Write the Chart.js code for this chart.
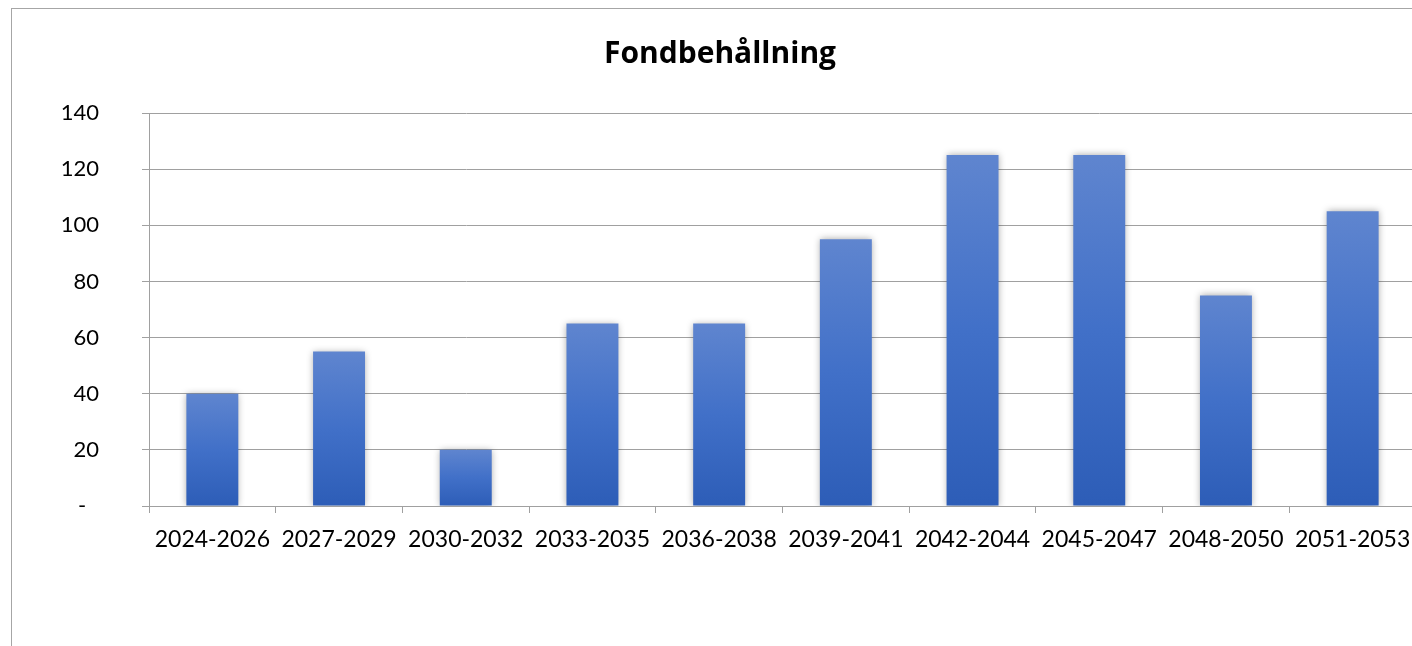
<!DOCTYPE html>
<html>
<head>
<meta charset="utf-8">
<script src="https://cdn.jsdelivr.net/npm/chart.js@4/dist/chart.umd.min.js"></script>
<style>
    html, body { margin: 0; padding: 0; background: #fff; overflow: hidden; }
    #frame {
        position: absolute; left: 11px; top: 8px;
        width: 1420px; height: 700px;
        border: 1px solid #a6a6a6;
        background: #fff;
    }
    #myChart { position: absolute; left: 0; top: 0; }
</style>
</head>
<body>
<div id="frame"><canvas id="myChart" width="1416" height="640"></canvas></div>
<script>
const periods = ['2024-2026', '2027-2029', '2030-2032', '2033-2035', '2036-2038',
    '2039-2041', '2042-2044', '2045-2047', '2048-2050', '2051-2053'];
const holdings = [40, 55, 20, 65, 65, 95, 125, 125, 75, 105];
const yTicks = [0, 20, 40, 60, 80, 100, 120, 140];

const gridColor = '#a0a0a0';
const fontName = 'Lato, "Open Sans", sans-serif';

// gradient per bar, from its top down to the base
const barGradient = (context) => {
    const chart = context.chart;
    const y = chart.scales.y;
    if (!chart.chartArea || !y) return '#4472c4';
    const top = y.getPixelForValue(context.dataset.data[context.dataIndex]);
    const base = y.getPixelForValue(0);
    const grad = chart.ctx.createLinearGradient(0, top, 0, base);
    grad.addColorStop(0, '#5f85cf');
    grad.addColorStop(0.5, '#4170c8');
    grad.addColorStop(1, '#2d5db7');
    return grad;
};

// soft shadow round the bars
const barShadow = {
    id: 'barShadow',
    beforeDatasetsDraw(chart) {
        const ctx = chart.ctx;
        ctx.save();
        ctx.shadowColor = 'rgba(0, 0, 0, 0.35)';
        ctx.shadowBlur = 7;
        ctx.shadowOffsetX = 0;
        ctx.shadowOffsetY = 0;
    },
    afterDatasetsDraw(chart) {
        chart.ctx.restore();
    }
};

document.addEventListener("DOMContentLoaded", () => {
    const ctx = document.getElementById('myChart').getContext('2d');
    new Chart(ctx, {
        type: 'bar',
        data: {
            labels: periods,
            datasets: [{
                data: holdings,
                backgroundColor: barGradient,
                borderWidth: 0,
                barPercentage: 0.41,
                categoryPercentage: 1
            }]
        },
        plugins: [barShadow],
        options: {
            responsive: false,
            animation: false,
            layout: { padding: { left: 12, right: 12, top: 0, bottom: 0 } },
            plugins: {
                legend: { display: false },
                tooltip: { enabled: false },
                title: {
                    display: true,
                    text: 'Fondbehållning',
                    color: '#000',
                    font: { family: '"Open Sans", Lato, sans-serif', size: 30, weight: 'bold' },
                    padding: { top: 27, bottom: 41 }
                }
            },
            scales: {
                x: {
                    grid: {
                        offset: true,
                        drawOnChartArea: false,
                        color: gridColor,
                        tickLength: 7
                    },
                    border: { color: gridColor },
                    ticks: {
                        color: '#000',
                        padding: 13,
                        maxRotation: 0,
                        autoSkip: false,
                        font: { family: fontName, size: 23 }
                    },
                    afterFit: (scale) => { scale.height = 143; }
                },
                y: {
                    min: 0,
                    max: 140,
                    afterBuildTicks: (scale) => {
                        scale.ticks = yTicks.map(v => ({ value: v }));
                    },
                    grid: { color: gridColor, tickLength: 7 },
                    border: { color: gridColor },
                    ticks: {
                        color: '#000',
                        padding: 43,
                        font: { family: fontName, size: 22 },
                        callback: (v) => v === 0 ? '-\u2007' : String(v)
                    },
                    afterFit: (scale) => { scale.width = 125; }
                }
            }
        }
    });
});
</script>
</body>
</html>
